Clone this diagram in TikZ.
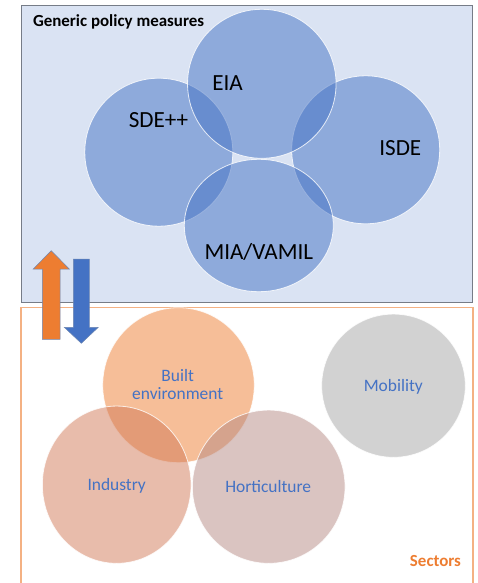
\documentclass[tikz,border=0pt]{standalone}
\usepackage{fontspec}
\setmainfont{Carlito}
\definecolor{PolicyFill}{RGB}{218,227,243}
\definecolor{PolicyLine}{RGB}{118,124,135}
\definecolor{MainBlue}{RGB}{68,114,196}
\definecolor{DarkBlue}{RGB}{47,82,143}
\definecolor{Accent}{RGB}{237,125,49}
\definecolor{SectorLine}{RGB}{244,177,131}
\definecolor{IndustryTone}{RGB}{209,121,87}
\definecolor{HortiTone}{RGB}{181,137,131}
\definecolor{MobilityTone}{RGB}{165,165,165}
\usetikzlibrary{shapes.geometric}

\begin{document}
\begin{tikzpicture}[
        x=1bp, y=-1bp,
        bubble/.style 2 args={ellipse, draw=white, line width=0.8bp, fill opacity=0.5, draw opacity=0.8, inner sep=0pt, minimum width=#1bp, minimum height=#2bp},
        policytext/.style={anchor=base, font=\fontsize{23.2}{27}\selectfont, text=black},
        sectortext/.style={font=\fontsize{17.5}{18.3}\selectfont, text=MainBlue, align=center},
        boxtitle/.style={font=\bfseries\fontsize{17}{20}\selectfont},
        blockarrow/.style={draw=DarkBlue!70, line width=0.5bp}
    ]
    \useasboundingbox (0,0) rectangle (478,583);

    \draw [PolicyLine, fill=PolicyFill, line width=1.4bp] (21.3,5.7) rectangle (472.3,302.7);
    \node [boxtitle, anchor=base west] (generic) at (29.5,26.7) {Generic policy measures};

    \node [bubble={148}{148}, fill=MainBlue] (sde) at (158.8,152.2) {};
    \node [bubble={148}{148}, fill=MainBlue] (isde) at (365.7,149.8) {};
    \node [bubble={148.5}{149}, fill=MainBlue] (eia) at (261.8,83.8) {};
    \node [bubble={149}{132.4}, fill=MainBlue] (mia) at (258.8,225.5) {};
    \node [policytext] (eialabel) at (227.5,90.7) {EIA};
    \node [policytext] (sdelabel) at (158.5,127.7) {SDE++};
    \node [policytext] (isdelabel) at (400.3,156) {ISDE};
    \node [policytext] (mialabel) at (258.8,259.3) {MIA/VAMIL};

    \draw [SectorLine, line width=1.3bp] (21,307.7) rectangle (473,590);
    \node [boxtitle, text=Accent, anchor=base east] (sectors) at (464.5,566.7) {Sectors};

    \node [bubble={151.6}{155}, fill=Accent] (built) at (178.5,385.2) {};
    \node [bubble={148.7}{157.3}, fill=IndustryTone] (industry) at (116.7,484.7) {};
    \node [bubble={152.7}{153.3}, fill=HortiTone] (horti) at (268.7,486.7) {};
    \node [bubble={143.7}{143.3}, fill=MobilityTone] (mobility) at (393.5,385.7) {};
    \node [sectortext] (builtlabel) at (177.7,384.6) {Built\\environment};
    \node [sectortext, anchor=base] (industrylabel) at (116.7,490) {Industry};
    \node [sectortext, anchor=base] (hortilabel) at (268.2,492.3) {Horticulture};
    \node [sectortext, anchor=base] (mobilitylabel) at (393.3,391.7) {Mobility};

    \draw [blockarrow, fill=Accent] (51.2,250.7) -- (69.3,269) -- (60,269) -- (60,339.3)
        -- (42.3,339.3) -- (42.3,269) -- (33.3,269) -- cycle;
    \draw [blockarrow, fill=MainBlue] (73.3,259) -- (89.3,259) -- (89.3,327.3) -- (98.3,327.3)
        -- (81.3,343.3) -- (64.3,327.3) -- (73.3,327.3) -- cycle;
\end{tikzpicture}
\end{document}
